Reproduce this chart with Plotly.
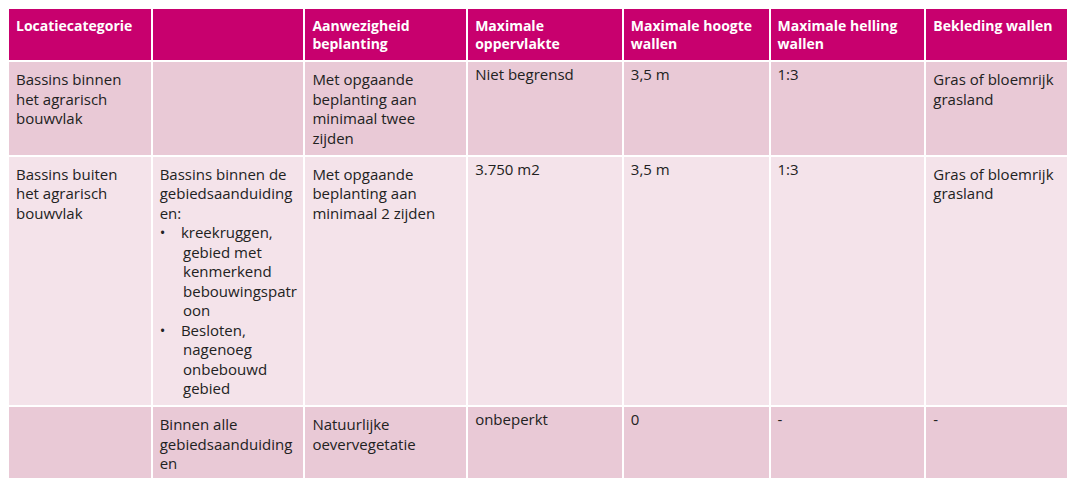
import plotly.graph_objects as go

headers = ["<b>Locatiecategorie</b>", "", "<b>Aanwezigheid<br>beplanting</b>", "<b>Maximale<br>oppervlakte</b>",
           "<b>Maximale hoogte<br>wallen</b>", "<b>Maximale helling<br>wallen</b>", "<b>Bekleding wallen</b>"]
B = "&nbsp;"
col1 = ["Bassins binnen<br>het agrarisch<br>bouwvlak", "Bassins buiten<br>het agrarisch<br>bouwvlak", ""]
col2 = ["", "Bassins binnen de<br>gebiedsaanduiding<br>en:<br>•" + B*4 + "kreekruggen,<br>" + B*6 + "gebied met<br>" + B*6 + "kenmerkend<br>" + B*6 + "bebouwingspatr<br>" + B*6 + "oon<br>•" + B*4 + "Besloten,<br>" + B*6 + "nagenoeg<br>" + B*6 + "onbebouwd<br>" + B*6 + "gebied",
        "Binnen alle<br>gebiedsaanduiding<br>en"]
col3 = ["Met opgaande<br>beplanting aan<br>minimaal twee<br>zijden", "Met opgaande<br>beplanting aan<br>minimaal 2 zijden", "Natuurlijke<br>oevervegetatie"]
col4 = ["Niet begrensd", "3.750 m2", "onbeperkt"]
col5 = ["3,5 m", "3,5 m", "0"]
col6 = ["1:3", "1:3", "-"]
col7 = ["Gras of bloemrijk<br>grasland", "Gras of bloemrijk<br>grasland", "-"]

row_colors = ["#E9C9D6", "#F4E3EA", "#E9C9D6"]
widths = [143, 152, 162, 155, 146, 155, 157]

fig = go.Figure(go.Table(
    domain=dict(x=[0, 1], y=[0, 1]),
    columnwidth=widths,
    header=dict(values=headers, fill_color="#C8006E", align="left", height=50,
                font=dict(family="Open Sans", size=14, color="white"),
                line=dict(color="white", width=2)),
    cells=dict(values=[col1, col2, col3, col4, col5, col6, col7],
               fill_color=[row_colors]*7, align="left", height=20,
               font=dict(family="Open Sans", size=15, color="#222222"),
               line=dict(color="white", width=2)),
))
fig.update_layout(width=1075, height=478, margin=dict(l=0, r=0, t=0, b=0, pad=0), paper_bgcolor="white")
fig.write_html("out.html")
